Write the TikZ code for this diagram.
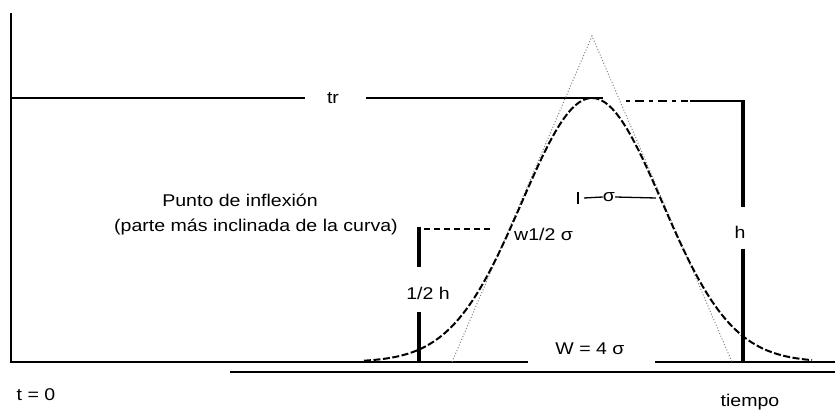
\documentclass[tikz,border=0pt]{standalone}
\usepackage{fontspec}
\setmainfont{Liberation Sans}[FakeStretch=1.15]
\begin{document}
\begin{tikzpicture}[x=1pt,y=-1pt,
  font=\fontsize{17}{20}\selectfont,
  lbl/.style={inner sep=0pt, anchor=center},
  axisline/.style={line width=1.3pt},
  heavyline/.style={line width=2.2pt},
  bar/.style={line width=4.5pt},
  curve/.style={line width=2pt, dash pattern=on 7pt off 2.5pt},
  tangent/.style={line width=1pt, dotted, gray},
  halfdash/.style={line width=1.6pt, dash pattern=on 6pt off 4pt},
  dashdot/.style={line width=2pt, dash pattern=on 4pt off 5pt on 9pt off 5pt}]
\useasboundingbox (0,0) rectangle (835,411);

% labels
\node[lbl] (tr) at (333,98) {tr};
\node[lbl] (pi1) at (240,200) {Punto de inflexión};
\node[lbl] (pi2) at (256,227) {(parte más inclinada de la curva)};
\node[lbl] (t0) at (36,395) {t = 0};
\node[lbl] (tiempo) at (750,402) {tiempo};
\node[lbl] (W) at (590,349) {W = 4 σ};
\node[lbl, anchor=west] (w12) at (514,234) {w1/2 σ};
\node[lbl] (hh) at (428,293) {1/2 h};
\node[lbl] (h) at (740,232) {h};
\node[lbl] (sig) at (609,197) {σ};

% coordinates
\coordinate (ytop) at (11,13);
\coordinate (o) at (11,362);
\coordinate (bl1) at (528,362);
\coordinate (bl2) at (655,362);
\coordinate (bl3) at (835,362);
\coordinate (low1) at (230,372);
\coordinate (low2) at (835,372);
\coordinate (trL) at (11,98);
\coordinate (trA) at (305,98);
\coordinate (trB) at (366,98);
\coordinate (trC) at (603,98);
\coordinate (dd1) at (626,101);
\coordinate (dd2) at (688,101);
\coordinate (rc1) at (690,101);
\coordinate (rc2) at (745,101);
\coordinate (hv1) at (743,100);
\coordinate (hv2) at (743,207);
\coordinate (hv3) at (743,249);
\coordinate (hv4) at (743,362);
\coordinate (hb1) at (419,227);
\coordinate (hb2) at (419,267);
\coordinate (hb3) at (419,312);
\coordinate (hb4) at (419,362);
\coordinate (hd1) at (424,229);
\coordinate (hd2) at (493,229);
\coordinate (apex) at (592,36);
\coordinate (tgL) at (452,362);
\coordinate (tgR) at (732,362);
\coordinate (sk1) at (578,192);
\coordinate (sk2) at (578,204);
\coordinate (sl1) at (584,198);
\coordinate (sr2) at (656,198);

% axes
\draw[axisline] (ytop) -- (o) -- (bl1);
\draw[axisline] (bl2) -- (bl3);
\draw[heavyline] (low1) -- (low2);

% tr line
\draw[heavyline] (trL) -- (trA);
\draw[heavyline] (trB) -- (trC);
\draw[dashdot] (dd1) -- (dd2);
\draw[heavyline] (rc1) -- (rc2);
\draw[bar] (hv1) -- (hv2);
\draw[bar] (hv3) -- (hv4);

% half height
\draw[bar] (hb1) -- (hb2);
\draw[bar] (hb3) -- (hb4);
\draw[halfdash] (hd1) -- (hd2);

% tangents
\draw[tangent] (tgL) -- (apex) -- (tgR);

% gaussian peak
\draw[curve] plot[domain=364:812, samples=120] (\x, {362-264*exp(-((\x-592)/70)^2/2)});

% sigma marker
\draw[line width=1.3pt] (sk1) -- (sk2);
\draw[line width=1.3pt] (sl1) -- (sig.west);
\draw[line width=1.3pt] (sig.east) -- (sr2);
\end{tikzpicture}
\end{document}
